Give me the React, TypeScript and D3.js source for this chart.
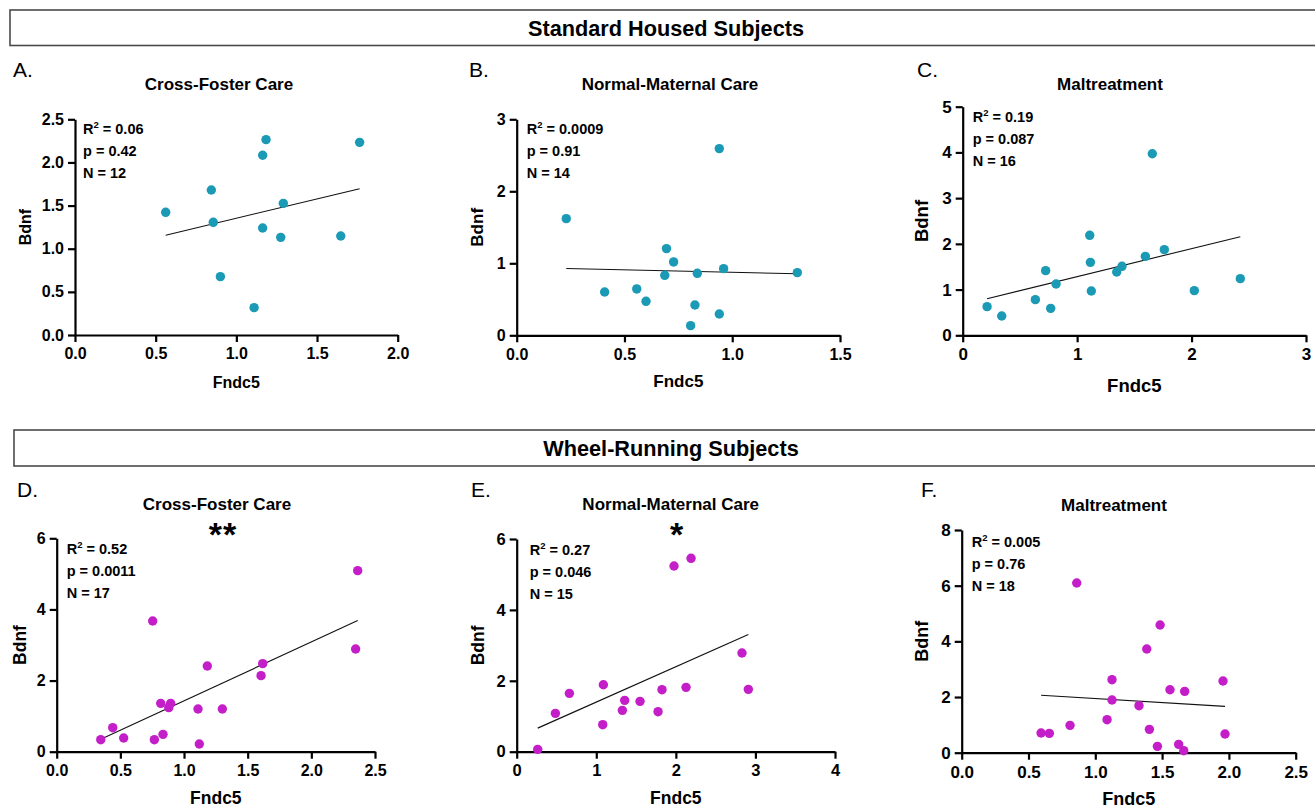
import { useEffect, useRef } from "react";
import * as d3 from "d3";

// Fndc5 (x) / Bdnf (y) values
const aFndc5 = [0.562, 0.845, 0.857, 0.901, 1.11, 1.163, 1.184, 1.163, 1.291, 1.275, 1.647, 1.764];
const aBdnf = [1.422, 1.681, 1.306, 0.676, 0.317, 2.083, 2.264, 1.24, 1.526, 1.132, 1.148, 2.233];

const bFndc5 = [0.23, 0.408, 0.557, 0.6, 0.687, 0.695, 0.728, 0.807, 0.827, 0.838, 0.94, 0.94, 0.96, 1.302];
const bBdnf = [1.62, 0.602, 0.644, 0.472, 0.833, 1.204, 1.019, 0.134, 0.421, 0.861, 2.593, 0.296, 0.926, 0.87];

const cFndc5 = [0.213, 0.341, 0.635, 0.725, 0.769, 0.816, 1.11, 1.116, 1.124, 1.346, 1.392, 1.596, 1.657, 1.762, 2.024, 2.426];
const cBdnf = [0.627, 0.423, 0.78, 1.414, 0.59, 1.122, 2.187, 1.596, 0.969, 1.385, 1.509, 1.727, 3.972, 1.873, 0.977, 1.239];

const dFndc5 = [0.346, 0.44, 0.526, 0.754, 0.767, 0.817, 0.835, 0.88, 0.895, 1.11, 1.12, 1.183, 1.301, 1.605, 1.618, 2.348, 2.364];
const dBdnf = [0.338, 0.675, 0.384, 3.675, 0.338, 1.359, 0.488, 1.238, 1.359, 1.2, 0.216, 2.409, 1.2, 2.138, 2.475, 2.888, 5.091];

const eFndc5 = [0.264, 0.486, 0.662, 1.081, 1.089, 1.328, 1.357, 1.55, 1.776, 1.826, 1.977, 2.128, 2.191, 2.831, 2.911];
const eBdnf = [0.066, 1.082, 1.646, 0.762, 1.89, 1.166, 1.448, 1.42, 1.129, 1.749, 5.239, 1.815, 5.455, 2.784, 1.759];

const fFndc5 = [0.594, 0.656, 0.811, 0.861, 1.088, 1.125, 1.125, 1.327, 1.385, 1.405, 1.465, 1.485, 1.559, 1.624, 1.662, 1.669, 1.956, 1.971];
const fBdnf = [0.707, 0.695, 0.982, 6.096, 1.186, 2.623, 1.892, 1.689, 3.725, 0.838, 0.228, 4.587, 2.263, 0.299, 0.072, 2.204, 2.575, 0.671];

const panelLetters = ["A.", "B.", "C.", "D.", "E.", "F."];
const panelTitles = ["Cross-Foster Care", "Normal-Maternal Care", "Maltreatment", "Cross-Foster Care", "Normal-Maternal Care", "Maltreatment"];
const r2Values = ["0.06", "0.0009", "0.19", "0.52", "0.27", "0.005"];
const pValues = ["0.42", "0.91", "0.087", "0.0011", "0.046", "0.76"];
const nValues = ["12", "14", "16", "17", "15", "18"];
const stars = ["", "", "", "**", "*", ""];
const xMaxes = [2, 1.5, 3, 2.5, 4, 2.5];
const yMaxes = [2.5, 3, 5, 6, 6, 8];
const xTickSteps = [0.5, 0.5, 1, 0.5, 1, 0.5];
const yTickSteps = [0.5, 1, 1, 2, 2, 2];
const xTickFormats = [".1f", ".1f", "d", ".1f", "d", ".1f"];
const yTickFormats = [".1f", "d", "d", "d", "d", "d"];
const groupHeaders = ["Standard Housed Subjects", "Wheel-Running Subjects"];

const TEAL = "#1a9ab4";
const MAGENTA = "#c41ec9";
const FONT = "'Liberation Sans', Arial, sans-serif";

const series = [
  [aFndc5, aBdnf],
  [bFndc5, bBdnf],
  [cFndc5, cBdnf],
  [dFndc5, dBdnf],
  [eFndc5, eBdnf],
  [fFndc5, fBdnf],
];

// pixel layout of each panel
const layout = [
  { l: 75, r: 397.7, t: 119.3, b: 335, tick: 16, lab: 16, yLabX: 50, xLabY: 47, titleX: 219, titleY: 84, letX: 13, letY: 77, annX: 8, annY: 129, starX: 0, starY: 0 },
  { l: 516.7, r: 840, t: 119.3, b: 335.3, tick: 16, lab: 17, yLabX: 39, xLabY: 46, titleX: 670, titleY: 84, letX: 469, letY: 77, annX: 10, annY: 129, starX: 0, starY: 0 },
  { l: 962.7, r: 1306, t: 106.7, b: 335.3, tick: 17, lab: 18.5, yLabX: 41, xLabY: 50, titleX: 1110, titleY: 84, letX: 917, letY: 77, annX: 10, annY: 117, starX: 0, starY: 0 },
  { l: 56.7, r: 375, t: 538.3, b: 751.7, tick: 16, lab: 17.5, yLabX: 37, xLabY: 46, titleX: 217, titleY: 504.5, letX: 17, letY: 497, annX: 10, annY: 549, starX: 223, starY: 530 },
  { l: 516.7, r: 835, t: 539, b: 751.7, tick: 16.5, lab: 17.5, yLabX: 39, xLabY: 46, titleX: 670.7, titleY: 504.5, letX: 471, letY: 497, annX: 13, annY: 550, starX: 677, starY: 530 },
  { l: 961.7, r: 1295.7, t: 530, b: 752.7, tick: 17, lab: 18, yLabX: 40, xLabY: 46, titleX: 1114, titleY: 505, letX: 921, letY: 497, annX: 10, annY: 542, starX: 0, starY: 0 },
];

const headerBoxes = [
  { x: 10, y: 10, h: 35.5, cx: 666, cy: 28 },
  { x: 14, y: 430, h: 36, cx: 671, cy: 448 },
];

export default function App() {
  const svgRef = useRef<SVGSVGElement | null>(null);
  const width = 1315;
  const height = 809;

  useEffect(() => {
    const svg = d3.select(svgRef.current);
    svg.selectAll("*").remove();

    // group header boxes
    headerBoxes.forEach((hb, i) => {
      svg.append("rect")
        .attr("x", hb.x).attr("y", hb.y)
        .attr("width", width + 20 - hb.x).attr("height", hb.h)
        .attr("fill", "none").attr("stroke", "#4a4a4a").attr("stroke-width", 1.6);
      svg.append("text")
        .attr("x", hb.cx).attr("y", hb.cy)
        .attr("text-anchor", "middle").attr("dominant-baseline", "central")
        .attr("font-family", FONT).attr("font-weight", "bold").attr("font-size", 21.7)
        .text(groupHeaders[i]);
    });

    series.forEach(([xs, ys], i) => {
      const L = layout[i];
      const color = i < 3 ? TEAL : MAGENTA;
      const x = d3.scaleLinear().domain([0, xMaxes[i]]).range([L.l, L.r]);
      const y = d3.scaleLinear().domain([0, yMaxes[i]]).range([L.b, L.t]);
      const xTicks = d3.range(0, xMaxes[i] + 1e-9, xTickSteps[i]);
      const yTicks = d3.range(0, yMaxes[i] + 1e-9, yTickSteps[i]);
      const g = svg.append("g");

      const xAxis = g.append("g")
        .attr("transform", `translate(0,${L.b})`)
        .call(d3.axisBottom(x).tickValues(xTicks).tickFormat(d3.format(xTickFormats[i])).tickSize(7).tickSizeOuter(0).tickPadding(6));
      const yAxis = g.append("g")
        .attr("transform", `translate(${L.l},0)`)
        .call(d3.axisLeft(y).tickValues(yTicks).tickFormat(d3.format(yTickFormats[i])).tickSize(7).tickSizeOuter(0).tickPadding(4));
      [xAxis, yAxis].forEach((ax) => {
        ax.select(".domain").attr("stroke", "#000").attr("stroke-width", 2.2);
        ax.selectAll(".tick line").attr("stroke", "#000").attr("stroke-width", 2.2);
        ax.selectAll(".tick text")
          .attr("fill", "#000").attr("font-family", FONT).attr("font-weight", "bold").attr("font-size", L.tick);
      });

      // least-squares line over the data range
      const mx = d3.mean(xs) as number;
      const my = d3.mean(ys) as number;
      const sxy = d3.sum(xs, (v, k) => (v - mx) * (ys[k] - my));
      const sxx = d3.sum(xs, (v) => (v - mx) * (v - mx));
      const slope = sxy / sxx;
      const icpt = my - slope * mx;
      const [x0, x1] = d3.extent(xs) as [number, number];
      const line = d3.line<number>().x((v) => x(v)).y((v) => y(icpt + slope * v));
      g.append("path").attr("d", line([x0, x1])).attr("fill", "none").attr("stroke", "#111").attr("stroke-width", 1.1);

      g.selectAll("circle.pt")
        .data(xs.map((v, k) => [v, ys[k]]))
        .enter().append("circle")
        .attr("class", "pt")
        .attr("cx", (d) => x(d[0])).attr("cy", (d) => y(d[1]))
        .attr("r", 4.7).attr("fill", color);

      // stats text
      const ann = g.append("g").attr("font-family", FONT).attr("font-weight", "bold").attr("font-size", 14.5).attr("fill", "#000");
      const r2 = ann.append("text").attr("x", L.l + L.annX).attr("y", L.annY).attr("dominant-baseline", "central");
      r2.append("tspan").text("R");
      r2.append("tspan").attr("font-size", 9.5).attr("dy", -5).text("2");
      r2.append("tspan").attr("dy", 5).text(` = ${r2Values[i]}`);
      ann.append("text").attr("x", L.l + L.annX).attr("y", L.annY + 22).attr("dominant-baseline", "central").text(`p = ${pValues[i]}`);
      ann.append("text").attr("x", L.l + L.annX).attr("y", L.annY + 44).attr("dominant-baseline", "central").text(`N = ${nValues[i]}`);

      // titles and labels
      g.append("text").attr("x", L.titleX).attr("y", L.titleY)
        .attr("text-anchor", "middle").attr("dominant-baseline", "central")
        .attr("font-family", FONT).attr("font-weight", "bold").attr("font-size", 17).text(panelTitles[i]);
      g.append("text").attr("x", L.letX).attr("y", L.letY)
        .attr("font-family", FONT).attr("font-size", 21).text(panelLetters[i]);
      g.append("text").attr("x", (L.l + L.r) / 2).attr("y", L.b + L.xLabY)
        .attr("text-anchor", "middle").attr("dominant-baseline", "central")
        .attr("font-family", FONT).attr("font-weight", "bold").attr("font-size", L.lab).text("Fndc5");
      g.append("text")
        .attr("transform", `translate(${L.l - L.yLabX},${(L.t + L.b) / 2}) rotate(-90)`)
        .attr("text-anchor", "middle").attr("dominant-baseline", "central")
        .attr("font-family", FONT).attr("font-weight", "bold").attr("font-size", L.lab).text("Bdnf");
      if (stars[i]) {
        g.append("text").attr("x", L.starX).attr("y", L.starY + 16)
          .attr("text-anchor", "middle")
          .attr("font-family", FONT).attr("font-weight", "bold").attr("font-size", 34).attr("letter-spacing", 1).text(stars[i]);
      }
    });
  }, []);

  return (
    <svg
      ref={svgRef}
      width={width}
      height={height}
      style={{ position: "absolute", left: 0, top: 0, background: "#fff" }}
    />
  );
}
